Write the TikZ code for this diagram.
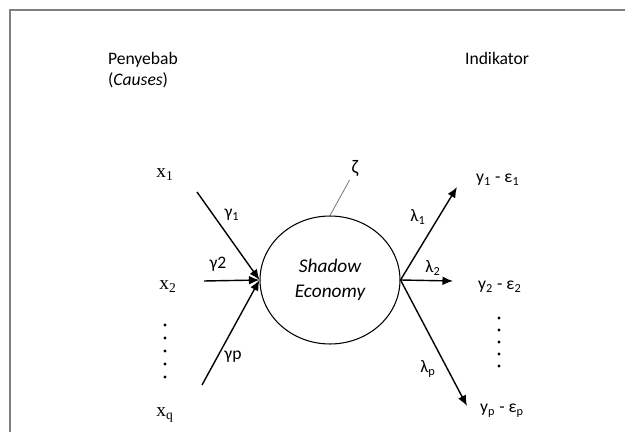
\documentclass[tikz,border=0pt]{standalone}
\usepackage{fontspec}
\setmainfont{Carlito}
\newfontfamily\xfont{Liberation Serif}
\usetikzlibrary{shapes.geometric,arrows.meta}

\tikzset{
    lbl/.style={inner sep=1pt, font=\fontsize{10}{12}\selectfont},
    xlbl/.style={inner sep=1pt, font=\fontsize{11}{13}\selectfont\xfont},
    path/.style={line width=0.8pt, -{Latex[length=6pt,width=5pt]}},
}

\begin{document}
\begin{tikzpicture}[x=0.02cm, y=-0.02cm]
    \useasboundingbox (0,0) rectangle (625,432);

    % Frame
    \draw[gray, line width=0.6pt] (625,10) -- (10,10) -- (10,432);

    % Headings
    \node[lbl, anchor=west, align=left] (causes) at (106,70) {Penyebab\\(\textit{Causes})};
    \node[lbl, anchor=west] (indikator) at (463,58) {Indikator};

    % Latent variable
    \node[draw, ellipse, line width=0.6pt, minimum width=2.8cm, minimum height=2.56cm,
          align=center, font=\fontsize{11}{14}\selectfont\itshape] (se) at (330,280) {Shadow\\Economy};
    \node[lbl, font=\fontsize{11}{13}\selectfont] (zeta) at (355,168) {ζ};
    \draw[gray, line width=0.5pt] (zeta.south west) ++(0,2) coordinate (zt) -- (se.north);

    % Causes
    \node[xlbl] (x1) at (165,175) {x\textsubscript{1}};
    \node[xlbl] (x2) at (168,287) {x\textsubscript{2}};
    \node[xlbl] (xq) at (165,415) {x\textsubscript{q}};
    \foreach \y in {325,338,351,364,377} {
        \fill (165,\y) circle (0.9pt);
    }
    \coordinate (s1) at (197,192);
    \coordinate (s2) at (204,281);
    \coordinate (sq) at (202,385);
    \draw[path] (s1) -- (se.west);
    \draw[path] (s2) -- (se.west);
    \draw[path] (sq) -- (se.west);
    \node[lbl] (g1) at (232,215) {γ\textsubscript{1}};
    \node[lbl] (g2) at (218,264) {γ2};
    \node[lbl] (gp) at (233,357) {γp};

    % Indicators
    \node[lbl, anchor=west] (y1) at (474,180) {y\textsubscript{1} - ε\textsubscript{1}};
    \node[lbl, anchor=west] (y2) at (476,287) {y\textsubscript{2} - ε\textsubscript{2}};
    \node[lbl, anchor=west] (yp) at (478,411) {y\textsubscript{p} - ε\textsubscript{p}};
    \foreach \y in {318,330,342,354,366} {
        \fill (499,\y) circle (0.9pt);
    }
    \coordinate (e1) at (457,187);
    \coordinate (e2) at (453,281);
    \coordinate (ep) at (467,406);
    \draw[path] (se.east) -- (e1);
    \draw[path] (se.east) -- (e2);
    \draw[path] (se.east) -- (ep);
    \node[lbl] (l1) at (418,217) {λ\textsubscript{1}};
    \node[lbl] (l2) at (433,268) {λ\textsubscript{2}};
    \node[lbl] (lp) at (428,369) {λ\textsubscript{p}};
\end{tikzpicture}
\end{document}
